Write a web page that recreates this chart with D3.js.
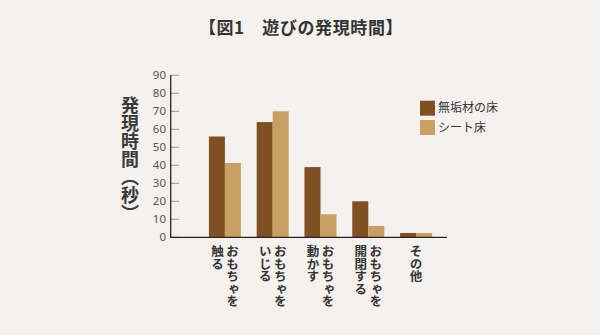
<!DOCTYPE html>
<html><head><meta charset="utf-8">
<script src="https://cdn.jsdelivr.net/npm/d3@7"></script>
<style>
html,body{margin:0;padding:0;background:#f4f1ee;}
svg{display:block;font-family:"Noto Sans CJK JP","Noto Sans",sans-serif;}
</style></head>
<body><svg id="c" width="600" height="335"></svg>
<script>
const categories = ["おもちゃを触る","おもちゃをいじる","おもちゃを動かす","おもちゃを開閉する","その他"];
const categoryLines = [["おもちゃを","触る"],["おもちゃを","いじる"],["おもちゃを","動かす"],["おもちゃを","開閉する"],["その他"]];
const seriesNames = ["無垢材の床","シート床"];
const mukuValues = [56, 64, 39, 20, 2.4];
const sheetValues = [41.3, 70, 12.8, 6.3, 2.4];
const yTicks = [0,10,20,30,40,50,60,70,80,90];
const title = "【図1　遊びの発現時間】";
const yTitle = "発現時間（秒）";
const colors = ["#804f22","#c9a064"];

const svg = d3.select("#c");
svg.append("rect").attr("width",600).attr("height",335).attr("fill","#f4f1ee");

const y = d3.scaleLinear().domain([0,90]).range([237.3,75.3]);
const x0 = d3.scaleBand().domain(categories).range([201,440]).paddingInner(0.33).paddingOuter(0.165);
const x1 = d3.scaleBand().domain(seriesNames).range([0,x0.bandwidth()]);
const axisX = 170.7;

// title
svg.append("text").attr("x",301).attr("y",34).attr("text-anchor","middle")
  .attr("font-size",17).attr("font-weight","bold").attr("fill","#333")
  .attr("letter-spacing",0.6).text(title);

// y ticks
const yAxis = svg.append("g");
yAxis.selectAll("line.t").data(yTicks).join("line")
  .attr("x1",axisX).attr("x2",axisX+8.5).attr("y1",d=>y(d)).attr("y2",d=>y(d))
  .attr("stroke","#999").attr("stroke-width",1);
yAxis.selectAll("text").data(yTicks).join("text")
  .attr("x",166).attr("y",d=>y(d)).attr("dy","0.36em").attr("text-anchor","end")
  .attr("font-size",11.5).attr("fill","#555").attr("font-family","'Noto Sans',sans-serif").text(d=>d);

// bars
const data = categories.map((c,i)=>({c, vals:[mukuValues[i], sheetValues[i]]}));
const g = svg.append("g");
g.selectAll("g").data(data).join("g")
  .attr("transform",d=>`translate(${x0(d.c)},0)`)
  .selectAll("rect").data(d=>d.vals.map((v,j)=>({v,s:seriesNames[j],j})))
  .join("rect")
  .attr("x",d=>x1(d.s)).attr("width",x1.bandwidth())
  .attr("y",d=>y(d.v)).attr("height",d=>y(0)-y(d.v))
  .attr("fill",d=>colors[d.j]);

// axes lines
svg.append("line").attr("x1",axisX).attr("x2",axisX).attr("y1",y(90)).attr("y2",y(0)+0.5)
  .attr("stroke","#2a2222").attr("stroke-width",1.3);
svg.append("line").attr("x1",axisX).attr("x2",447).attr("y1",y(0)).attr("y2",y(0))
  .attr("stroke","#2a2222").attr("stroke-width",1.3);

// x labels (vertical)
categoryLines.forEach((lines,i)=>{
  const cx = x0(categories[i]) + x0.bandwidth()/2;
  const n = lines.length;
  lines.forEach((ln,k)=>{
    const colX = n===1 ? cx : cx + 7.5 - k*15;
    svg.append("text").attr("x",colX).attr("y",245)
      .style("writing-mode","vertical-rl").attr("text-anchor","start")
      .attr("font-size",12.5).attr("font-weight","bold").attr("fill","#333").text(ln);
  });
});

// y title
svg.append("text").attr("x",130).attr("y",96).style("writing-mode","vertical-rl")
  .attr("text-anchor","start").attr("font-size",18).attr("font-weight","bold")
  .attr("fill","#3a3a3a").text(yTitle);

// legend
const lg = svg.append("g");
seriesNames.forEach((s,i)=>{
  lg.append("rect").attr("x",420).attr("y",100.7+i*19.3).attr("width",15).attr("height",15).attr("fill",colors[i]);
  lg.append("text").attr("x",438).attr("y",108.2+i*19.3).attr("dy","0.35em")
    .attr("font-size",12).attr("fill","#333").text(s);
});
</script></body></html>
